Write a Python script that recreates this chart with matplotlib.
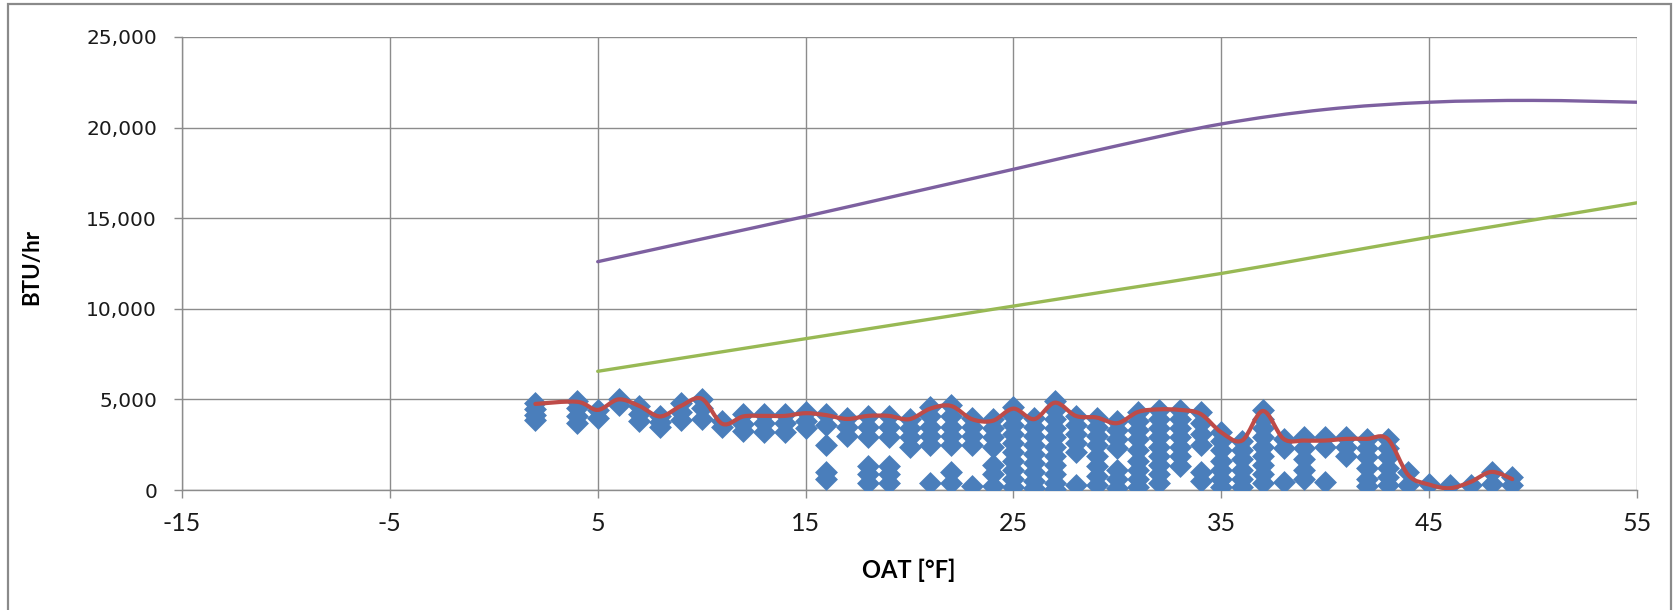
import numpy as np
import matplotlib
matplotlib.use("Agg")
import matplotlib.pyplot as plt
from matplotlib.path import Path
from matplotlib.patches import PathPatch, Rectangle
from matplotlib.ticker import FixedLocator, FuncFormatter

# Logged heating loads (BTU/hr) grouped by outdoor-air temperature (°F)
scatter_temps = [2, 4, 5, 6, 7, 8, 9, 10, 11, 12, 13, 14, 15, 16, 17, 18, 19, 20,
                 21, 22, 23, 24, 25, 26, 27, 28, 29, 30, 31, 32, 33, 34, 35, 36,
                 37, 38, 39, 40, 41, 42, 43, 44, 45, 46, 47, 48, 49]
scatter_loads = [
    [4800, 4450, 4150, 3850],
    [4900, 4500, 4100, 3700],
    [4400, 3950],
    [5000, 4700],
    [4650, 4200, 3800],
    [4100, 3750, 3500],
    [4800, 4300, 3850],
    [5000, 4500, 3900],
    [3800, 3500],
    [4200, 3650, 3250],
    [4200, 3700, 3200],
    [4200, 3700, 3200],
    [4300, 3800, 3400],
    [4200, 3600, 2500, 1000, 600],
    [4000, 3500, 3000],
    [4100, 3500, 2900, 1300, 900, 400],
    [4100, 3500, 2900, 1300, 900, 400],
    [3900, 3400, 2900, 2400],
    [4600, 4100, 3500, 3000, 2500, 400],
    [4700, 4100, 3500, 3000, 2500, 1000, 400],
    [4000, 3500, 3000, 2500, 200],
    [3900, 3400, 2900, 2400, 1400, 900, 200],
    [4600, 4100, 3600, 3100, 2600, 2100, 1600, 1100, 600, 150],
    [4000, 3500, 3000, 2500, 2000, 1500, 1000, 500, 100],
    [4900, 4400, 3900, 3400, 2900, 2400, 1900, 1400, 900, 400, 50],
    [4100, 3600, 3100, 2600, 2100, 300],
    [4000, 3500, 3000, 2500, 1900, 1300, 800, 300],
    [3800, 3300, 2800, 2300, 1100, 600, 100],
    [4300, 3800, 3300, 2800, 2200, 1600, 1100, 600, 150],
    [4400, 3900, 3400, 2900, 2400, 1900, 1400, 900, 400],
    [4400, 3900, 3400, 2900, 2400, 1900, 1300],
    [4300, 3700, 3100, 2500, 1000, 500],
    [3200, 2700, 2200, 1600, 1100, 600, 150],
    [2700, 2200, 1700, 1100, 600, 150],
    [4400, 3900, 3400, 2900, 2400, 1900, 1400, 900, 400],
    [2800, 2300, 450],
    [2900, 2300, 1700, 1100, 600],
    [2900, 2400, 450],
    [2900, 2400, 1900],
    [2800, 2300, 1800, 1200, 600, 200],
    [2800, 2300, 1800, 1200, 700, 300],
    [1000, 300],
    [350],
    [250],
    [250],
    [1000, 350],
    [700, 250],
]

# Trend of the logged load
trend_temps = [2, 4, 5, 6, 7, 8, 9, 10, 11, 12, 13, 14, 15, 16, 17, 18, 19, 20,
               21, 22, 23, 24, 25, 26, 27, 28, 29, 30, 31, 32, 33, 34, 35, 36,
               37, 38, 39, 40, 41, 42, 43, 44, 45, 46, 47, 48, 49]
trend_loads = [4750, 4870, 4420, 5000, 4640, 4060, 4640, 5040, 3650, 4060,
               4090, 4090, 4240, 4130, 3920, 4090, 4090, 3910, 4490, 4640,
               3910, 3820, 4490, 3910, 4820, 4090, 4000, 3690, 4310, 4450,
               4420, 4200, 3180, 2730, 4360, 2820, 2730, 2730, 2820, 2820,
               2820, 820, 300, 100, 450, 1000, 600]

# Design-load curves
design_temps = [5, 10, 15, 20, 25, 30, 35, 40, 45, 50, 55]
design_load_high = [12600, 13850, 15100, 16400, 17700, 19000, 20200, 21000,
                    21400, 21500, 21400]
design_load_low = [6550, 7450, 8350, 9250, 10150, 11050, 11950, 12950,
                   13950, 14900, 15850]

x_ticks = [-15, -5, 5, 15, 25, 35, 45, 55]
y_ticks = [0, 5000, 10000, 15000, 20000, 25000]

BLUE = "#4A7EBB"
RED = "#BE4B48"
GREEN = "#98B954"
PURPLE = "#7D60A0"
GRID = "#8C8C8C"

DIAMOND = [(0, 1), (1, 0), (0, -1), (-1, 0), (0, 1)]


def smooth_path(xs, ys):
    """Cubic Bezier path through the points (Catmull-Rom style tangents)."""
    pts = np.column_stack([xs, ys]).astype(float)
    n = len(pts)
    verts = [pts[0]]
    codes = [Path.MOVETO]
    for i in range(n - 1):
        p0 = pts[i - 1] if i > 0 else pts[i]
        p1 = pts[i]
        p2 = pts[i + 1]
        p3 = pts[i + 2] if i + 2 < n else pts[i + 1]
        verts += [p1 + (p2 - p0) / 6.0, p2 - (p3 - p1) / 6.0, p2]
        codes += [Path.CURVE4] * 3
    return Path(verts, codes)


W, H = 1676, 610
fig = plt.figure(figsize=(W / 100, H / 100), dpi=100)
fig.patch.set_facecolor("white")

left, right, top, bottom = 182, 1637, 37, 490
ax = fig.add_axes([left / W, (H - bottom) / H, (right - left) / W, (bottom - top) / H])
ax.set_xlim(-15, 55)
ax.set_ylim(0, 25000)

ax.xaxis.set_major_locator(FixedLocator(x_ticks))
ax.yaxis.set_major_locator(FixedLocator(y_ticks))
ax.yaxis.set_major_formatter(FuncFormatter(lambda v, p: f"{int(v):,}"))
ax.xaxis.set_major_formatter(FuncFormatter(lambda v, p: f"{int(v)}"))

ax.grid(True, color=GRID, linewidth=1.0, zorder=0)
ax.set_axisbelow(True)
for side in ("top", "right"):
    ax.spines[side].set_visible(False)
for side in ("left", "bottom"):
    ax.spines[side].set_color(GRID)
    ax.spines[side].set_linewidth(1.0)

ax.tick_params(axis="both", direction="out", length=6, width=1.0, color=GRID)
ax.tick_params(axis="y", pad=12, labelsize=14.5, labelcolor="#1a1a1a")
ax.tick_params(axis="x", pad=10, labelcolor="#1a1a1a")
for lab in ax.get_xticklabels():
    lab.set_fontfamily(["Lato", "DejaVu Sans"])
    lab.set_fontsize(18)
for lab in ax.get_yticklabels():
    lab.set_fontfamily(["DejaVu Sans"])

# Logged loads
for t, loads in zip(scatter_temps, scatter_loads):
    ax.plot([t] * len(loads), loads, linestyle="none", marker=DIAMOND,
            markersize=16.5, markerfacecolor=BLUE, markeredgewidth=0,
            zorder=3)

# Smoothed curves
for xs, ys, col, lw, z in [
    (design_temps, design_load_high, PURPLE, 2.4, 4),
    (design_temps, design_load_low, GREEN, 2.4, 4),
    (trend_temps, trend_loads, RED, 3.0, 5),
]:
    ax.add_patch(PathPatch(smooth_path(xs, ys), fill=False, edgecolor=col,
                           linewidth=lw, capstyle="round", joinstyle="round",
                           zorder=z))

ax.set_ylabel("BTU/hr", fontsize=16, fontweight="bold",
              family=["Lato", "DejaVu Sans"])
ax.yaxis.set_label_coords((32 - left) / (right - left), (bottom - 267) / (bottom - top))
ax.set_xlabel("OAT [°F]", fontsize=17, fontweight="bold",
              family=["Lato", "DejaVu Sans"])
ax.xaxis.set_label_coords((909 - left) / (right - left), -(570 - bottom) / (bottom - top))
ax.xaxis.label.set_va("center")
ax.yaxis.label.set_va("center")

# Chart-area frame
fig.add_artist(Rectangle((8 / W, -0.01), (1671 - 8) / W, 1 - 4 / H + 0.01,
                         transform=fig.transFigure, fill=False,
                         edgecolor="#8A8A8A", linewidth=1.6))

fig.savefig("out.png", dpi=100, facecolor="white")
